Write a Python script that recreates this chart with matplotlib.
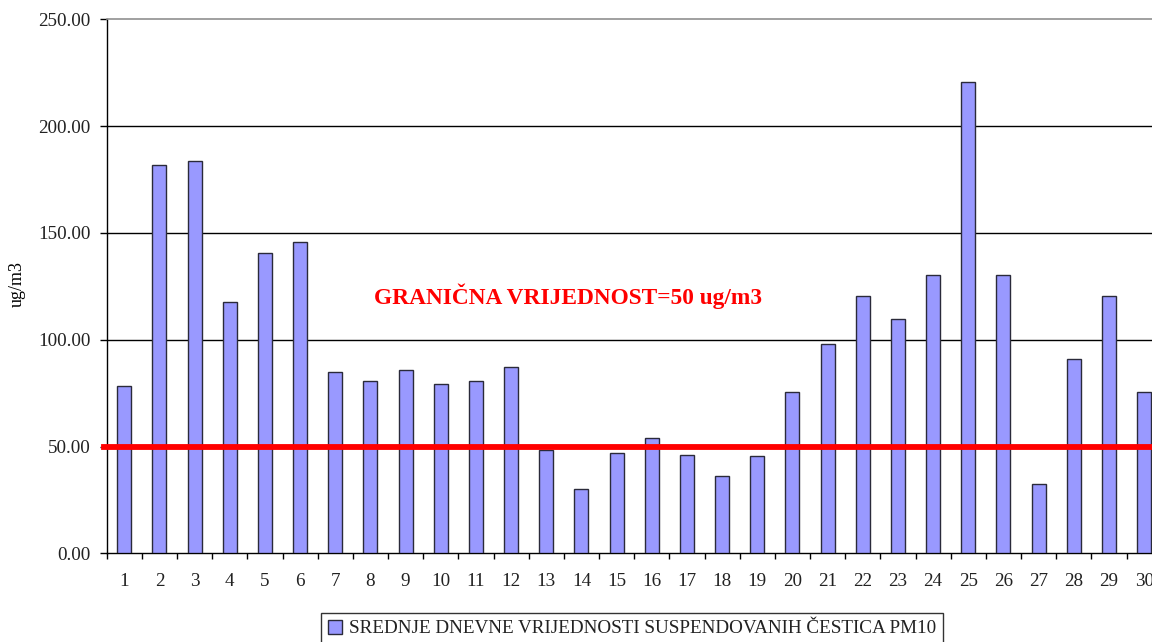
import matplotlib
matplotlib.use("Agg")
import matplotlib.pyplot as plt
from matplotlib.patches import Patch

days = [str(i) for i in range(1, 31)]
pm10 = [78.2, 182.0, 183.7, 117.8, 140.4, 145.6, 84.7, 80.7, 85.8, 79.4,
        80.7, 87.4, 48.2, 30.0, 47.1, 54.2, 46.0, 36.2, 45.6, 75.4,
        98.0, 120.5, 109.9, 130.1, 220.5, 130.1, 32.3, 91.0, 120.5, 75.4]
limit_value = 50
yticks = [0, 50, 100, 150, 200, 250]
series_label = "SREDNJE DNEVNE VRIJEDNOSTI SUSPENDOVANIH ČESTICA PM10"
limit_label = "GRANIČNA VRIJEDNOST=50 ug/m3"
ylabel = "ug/m3"

plt.rcParams['font.family'] = ['Liberation Serif', 'DejaVu Serif']

W, H = 1152, 642
fig = plt.figure(figsize=(W / 100, H / 100), dpi=100)
ax = fig.add_axes([106.7 / W, 1 - 553.3 / H, 1055 / W, 533.9 / H])

x = list(range(len(days)))
ax.bar(x, pm10, width=0.4, color='#9999FF', edgecolor='#2a2a3a', linewidth=1.0, zorder=3)

ax.set_xlim(-0.5, len(days) - 0.5)
ax.set_ylim(0, 250)
ax.set_yticks(yticks)
ax.set_yticklabels([f"{v:.2f}" for v in yticks])
ax.set_xticks(x)
ax.set_xticklabels(days)
ax.set_xticks([i + 0.5 for i in range(-1, len(days))], minor=True)

ax.tick_params(axis='y', which='major', direction='out', length=5, width=1,
               pad=6.5, labelsize=13.8, colors='black', labelcolor='#222222')
ax.tick_params(axis='x', which='major', length=0, pad=14, labelsize=13.8, labelcolor='#222222')
ax.tick_params(axis='x', which='minor', direction='out', length=4, width=1, colors='black')

for v in yticks[1:-1]:
    ax.axhline(v, color='black', linewidth=1.0, zorder=1)

ax.spines['left'].set_color('black')
ax.spines['left'].set_linewidth(1.0)
ax.spines['bottom'].set_color('black')
ax.spines['bottom'].set_linewidth(1.0)
ax.spines['top'].set_color('#909090')
ax.spines['top'].set_linewidth(1.2)
ax.spines['right'].set_visible(False)

ax.axhline(limit_value, xmin=-0.003, xmax=1, color='#FF0000', linewidth=4.2,
           zorder=4, clip_on=False)

fig.text(17 / W, 1 - 284 / H, ylabel, rotation=90, ha='center', va='center',
         fontsize=13, color='black')

fig.text(568 / W, 1 - 296 / H, limit_label, ha='center', va='center',
         fontsize=16.8, fontweight='bold', color='#FF0000')

handle = Patch(facecolor='#9999FF', edgecolor='#2a2a3a', linewidth=1.0)
leg = fig.legend([handle], [series_label], loc='upper left',
                 bbox_to_anchor=(321 / W, 1 - 613 / H), fontsize=13.8,
                 frameon=True, fancybox=False, handlelength=0.75, handleheight=0.75,
                 handletextpad=0.35, borderpad=0.35, borderaxespad=0)
leg.get_frame().set_edgecolor('black')
leg.get_frame().set_linewidth(1.0)
for t in leg.get_texts():
    t.set_color('#222222')

fig.savefig('out.png', dpi=100)
